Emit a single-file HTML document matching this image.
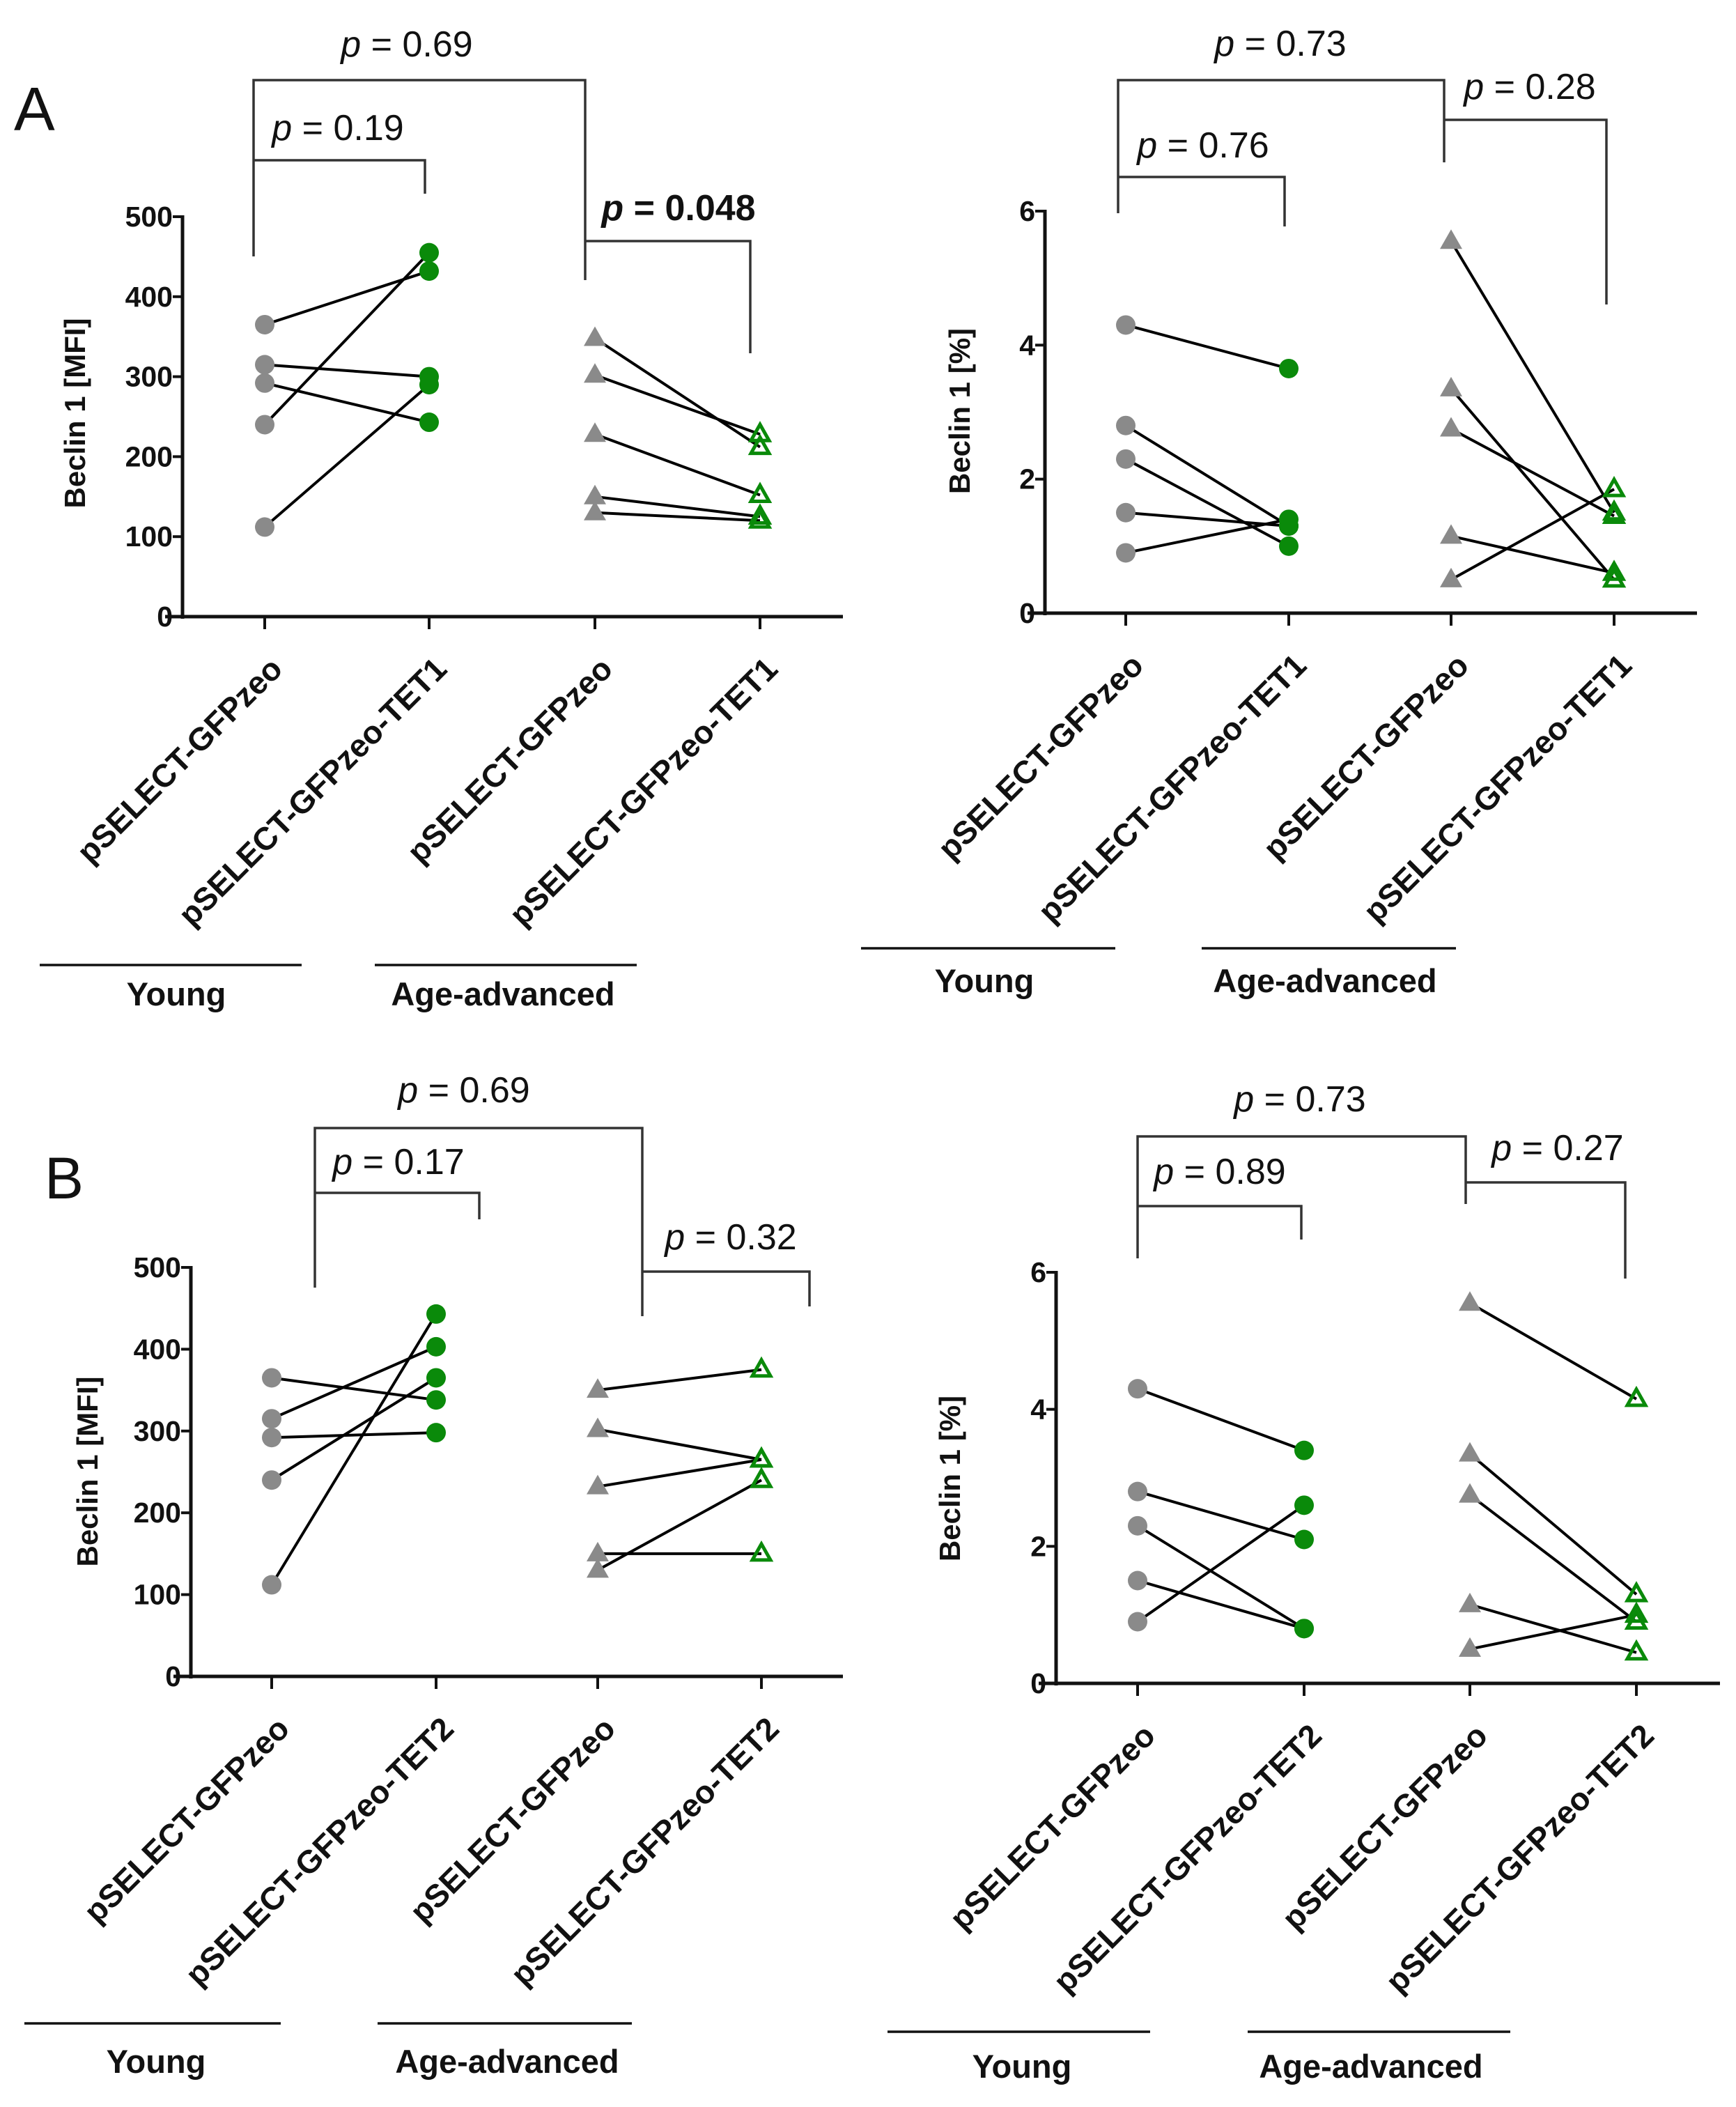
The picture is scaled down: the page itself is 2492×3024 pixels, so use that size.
<!DOCTYPE html>
<html><head><meta charset="utf-8"><style>
html,body{margin:0;padding:0;background:#fff;}
svg{display:block;}
text{font-family:"Liberation Sans",Arial,sans-serif;}
</style></head><body>
<svg id="fig" width="2492" height="3024" viewBox="0 0 2492 3024" xmlns="http://www.w3.org/2000/svg"></svg>
<script>
// ---- data ----
const catsTET1 = ["pSELECT-GFPzeo","pSELECT-GFPzeo-TET1","pSELECT-GFPzeo","pSELECT-GFPzeo-TET1"];
const catsTET2 = ["pSELECT-GFPzeo","pSELECT-GFPzeo-TET2","pSELECT-GFPzeo","pSELECT-GFPzeo-TET2"];
const mfiTicks = [0,100,200,300,400,500];
const pctTicks = [0,2,4,6];
// Panel A left (MFI, TET1)
const aMfiYoungCtrl = [365,315,292,240,112];
const aMfiYoungTet  = [432,300,243,455,290];
const aMfiAgedCtrl  = [348,302,228,150,130];
const aMfiAgedTet   = [212,228,152,125,120];
// Panel A right (%, TET1)
const aPctYoungCtrl = [4.3,2.8,2.3,1.5,0.9];
const aPctYoungTet  = [3.65,1.3,1.0,1.3,1.4];
const aPctAgedCtrl  = [5.55,3.35,2.75,1.15,0.5];
const aPctAgedTet   = [1.5,0.5,1.45,0.6,1.85];
// Panel B left (MFI, TET2)
const bMfiYoungCtrl = [365,315,292,240,112];
const bMfiYoungTet  = [338,403,298,365,443];
const bMfiAgedCtrl  = [350,302,232,150,130];
const bMfiAgedTet   = [375,265,265,150,240];
// Panel B right (%, TET2)
const bPctYoungCtrl = [4.3,2.8,2.3,1.5,0.9];
const bPctYoungTet  = [3.4,2.1,0.8,0.8,2.6];
const bPctAgedCtrl  = [5.55,3.35,2.75,1.15,0.5];
const bPctAgedTet   = [4.15,1.3,0.9,0.45,1.0];
// p-values
const pA1 = ["0.69","0.19","0.048"];
const pA2 = ["0.73","0.76","0.28"];
const pB1 = ["0.69","0.17","0.32"];
const pB2 = ["0.73","0.89","0.27"];

const NS="http://www.w3.org/2000/svg";
const svg=document.getElementById('fig');
function mk(tag,attrs,parent){const e=document.createElementNS(NS,tag);for(const k in attrs)e.setAttribute(k,attrs[k]);(parent||svg).appendChild(e);return e;}

function panel(cfg){
  const g=mk('g',{});
  
  
  const ys=v=>cfg.y0+(cfg.yMax-v)/(cfg.yMax)*(cfg.yBot-cfg.y0);
  const ax=mk('line',{x1:cfg.ax,y1:cfg.y0-2,x2:cfg.ax,y2:cfg.yBot+3,stroke:'#111','stroke-width':5},g);
  
  const xa=mk('line',{x1:cfg.ax-25,y1:cfg.yBot,x2:cfg.xEnd,y2:cfg.yBot,stroke:'#111','stroke-width':5},g);
  
  cfg.ticks.forEach(t=>{
    const y=ys(t);
    mk('line',{x1:cfg.ax-14,y1:y,x2:cfg.ax,y2:y,stroke:'#111','stroke-width':4},g);
    const tx=mk('text',{x:cfg.ax-14,y:y+14,'text-anchor':'end','font-size':41,'font-weight':'bold',fill:'#111'},g);
    tx.textContent=t;
    
  });
  const yt=mk('text',{x:cfg.ytx,y:cfg.yty,'text-anchor':'middle','font-size':42,'font-weight':'bold',fill:'#111',transform:`rotate(-90 ${cfg.ytx} ${cfg.yty})`},g);
  yt.textContent=cfg.ytitle;
  
  cfg.cats.forEach((c,i)=>{
    const x=cfg.cx[i];
    mk('line',{x1:x,y1:cfg.yBot,x2:x,y2:cfg.yBot+18,stroke:'#111','stroke-width':4},g);
    const lx=x+28,ly=cfg.yBot+78;
    const t=mk('text',{x:lx,y:ly,'text-anchor':'end','font-size':46,'font-weight':'bold',fill:'#111',transform:`rotate(-45 ${lx} ${ly})`},g);
    t.textContent=c;
    
  });
  const groups=[[cfg.yc,cfg.yt,0,1],[cfg.ac,cfg.at,2,3]];
  groups.forEach(([a,b,i0,i1])=>{
    a.forEach((v,k)=>{
      const l=mk('line',{x1:cfg.cx[i0],y1:ys(v),x2:cfg.cx[i1],y2:ys(b[k]),stroke:'#000','stroke-width':4},g);
      
    });
  });
  cfg.yc.forEach(v=>{const m=mk('circle',{cx:cfg.cx[0],cy:ys(v),r:14,fill:'#8a8a8a'},g);});
  cfg.yt.forEach(v=>{const m=mk('circle',{cx:cfg.cx[1],cy:ys(v),r:14,fill:'#0a8a0a'},g);});
  cfg.ac.forEach(v=>{const x=cfg.cx[2],y=ys(v);const m=mk('polygon',{points:`${x},${y-17} ${x-16},${y+11} ${x+16},${y+11}`,fill:'#8a8a8a'},g);});
  cfg.at.forEach(v=>{const x=cfg.cx[3],y=ys(v);const m=mk('polygon',{points:`${x},${y-14} ${x-13},${y+9} ${x+13},${y+9}`,fill:'none',stroke:'#0a8a0a','stroke-width':5},g);});
  cfg.br.forEach((b,i)=>{
    const p=mk('polyline',{points:`${b.x1},${b.l1} ${b.x1},${b.y} ${b.x2},${b.y} ${b.x2},${b.l2}`,fill:'none',stroke:'#333','stroke-width':3.5},g);
    
    const t=mk('text',{x:b.tx,y:b.ty,'text-anchor':'middle','font-size':52,fill:'#111','font-weight':b.bold?'bold':'normal'},g);
    const ip=mk('tspan',{'font-style':'italic'},t);ip.textContent='p';
    const r=mk('tspan',{},t);r.textContent=' = '+cfg.pv[i];
    
  });
  cfg.grp.forEach(gp=>{
    mk('line',{x1:gp.x1,y1:gp.y,x2:gp.x2,y2:gp.y,stroke:'#111','stroke-width':3.5},g);
    const t=mk('text',{x:gp.tx,y:gp.ty,'text-anchor':'middle','font-size':47,'font-weight':'bold',fill:'#111'},g);
    t.textContent=gp.label;
    
  });
}

panel({name:'panel-a-mfi',ax:262,y0:311,yBot:885,xEnd:1210,yMax:500,ticks:mfiTicks,ytitle:'Beclin 1 [MFI]',ytx:122,yty:593,
  cats:catsTET1,cx:[380,616,854,1091],yc:aMfiYoungCtrl,yt:aMfiYoungTet,ac:aMfiAgedCtrl,at:aMfiAgedTet,pv:pA1,
  br:[{x1:364,x2:840,y:115,l1:368,l2:402,tx:584,ty:81},{x1:364,x2:610,y:230,l1:230,l2:278,tx:485,ty:201},{x1:840,x2:1077,y:346,l1:346,l2:507,tx:974,ty:316,bold:true}],
  grp:[{x1:57,x2:433,y:1385,tx:253,ty:1443,label:'Young'},{x1:538,x2:914,y:1385,tx:722,ty:1443,label:'Age-advanced'}]});

panel({name:'panel-a-percent',ax:1500,y0:303,yBot:880,xEnd:2436,yMax:6,ticks:pctTicks,ytitle:'Beclin 1 [%]',ytx:1392,yty:590,
  cats:catsTET1,cx:[1616,1850,2083,2317],yc:aPctYoungCtrl,yt:aPctYoungTet,ac:aPctAgedCtrl,at:aPctAgedTet,pv:pA2,
  br:[{x1:1605,x2:2073,y:115,l1:306,l2:233,tx:1838,ty:80},{x1:1605,x2:1844,y:254,l1:254,l2:325,tx:1727,ty:226},{x1:2073,x2:2306,y:172,l1:172,l2:437,tx:2196,ty:142}],
  grp:[{x1:1236,x2:1601,y:1361,tx:1413,ty:1424,label:'Young'},{x1:1725,x2:2090,y:1361,tx:1902,ty:1424,label:'Age-advanced'}]});

panel({name:'panel-b-mfi',ax:274,y0:1819,yBot:2406,xEnd:1210,yMax:500,ticks:mfiTicks,ytitle:'Beclin 1 [MFI]',ytx:140,yty:2112,
  cats:catsTET2,cx:[390,626,858,1093],yc:bMfiYoungCtrl,yt:bMfiYoungTet,ac:bMfiAgedCtrl,at:bMfiAgedTet,pv:pB1,
  br:[{x1:452,x2:922,y:1619,l1:1848,l2:1889,tx:666,ty:1582},{x1:452,x2:688,y:1712,l1:1712,l2:1750,tx:572,ty:1685},{x1:922,x2:1162,y:1825,l1:1825,l2:1875,tx:1049,ty:1793}],
  grp:[{x1:35,x2:403,y:2904,tx:224,ty:2975,label:'Young'},{x1:542,x2:907,y:2904,tx:728,ty:2975,label:'Age-advanced'}]});

panel({name:'panel-b-percent',ax:1516,y0:1826,yBot:2416,xEnd:2469,yMax:6,ticks:pctTicks,ytitle:'Beclin 1 [%]',ytx:1378,yty:2122,
  cats:catsTET2,cx:[1633,1872,2110,2349],yc:bPctYoungCtrl,yt:bPctYoungTet,ac:bPctAgedCtrl,at:bPctAgedTet,pv:pB2,
  br:[{x1:1633,x2:2104,y:1631,l1:1806,l2:1728,tx:1866,ty:1595},{x1:1633,x2:1868,y:1731,l1:1731,l2:1779,tx:1751,ty:1699},{x1:2104,x2:2333,y:1697,l1:1697,l2:1835,tx:2236,ty:1665}],
  grp:[{x1:1274,x2:1651,y:2916,tx:1467,ty:2982,label:'Young'},{x1:1791,x2:2168,y:2916,tx:1968,ty:2982,label:'Age-advanced'}]});

const la=mk('text',{x:20,y:187,'font-size':88,fill:'#111'});la.textContent='A';

const lb=mk('text',{x:64,y:1720,'font-size':84,fill:'#111'});lb.textContent='B';

</script>
</body></html>
